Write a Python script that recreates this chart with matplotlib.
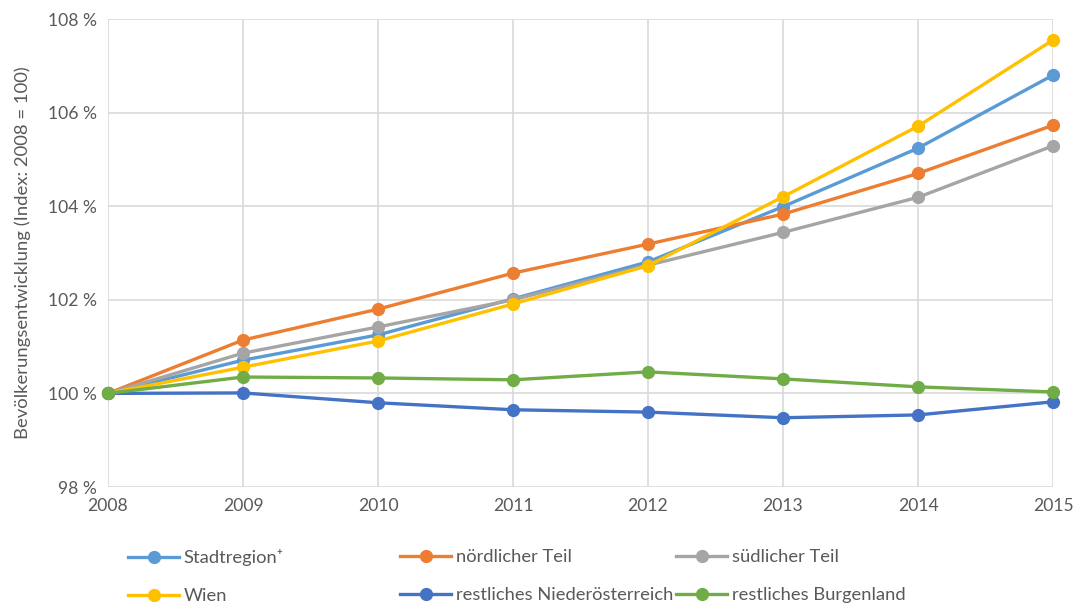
import matplotlib.pyplot as plt
from matplotlib.ticker import FuncFormatter

years = [2008, 2009, 2010, 2011, 2012, 2013, 2014, 2015]
stadtregion = [100, 100.71, 101.25, 102.02, 102.81, 103.99, 105.24, 106.80]
noerdlich = [100, 101.14, 101.80, 102.57, 103.19, 103.83, 104.70, 105.73]
suedlich = [100, 100.86, 101.42, 102.00, 102.74, 103.44, 104.19, 105.29]
wien = [100, 100.56, 101.12, 101.91, 102.73, 104.20, 105.71, 107.55]
rest_noe = [100, 100.01, 99.80, 99.65, 99.60, 99.48, 99.54, 99.82]
rest_bgld = [100, 100.35, 100.33, 100.29, 100.46, 100.31, 100.14, 100.03]

labels = ["Stadtregion\u207a", "nördlicher Teil", "südlicher Teil",
          "Wien", "restliches Niederösterreich", "restliches Burgenland"]
series = [stadtregion, noerdlich, suedlich, wien, rest_noe, rest_bgld]
colors = ["#5B9BD5", "#ED7D31", "#A5A5A5", "#FFC000", "#4472C4", "#70AD47"]

plt.rcParams['font.family'] = ['Lato', 'DejaVu Sans']
txt = "#595959"

fig = plt.figure(figsize=(10.73, 6.03), dpi=100)
ax = fig.add_axes([108 / 1073, 1 - 487 / 603, (1053 - 108) / 1073, (487 - 19) / 603])

handles = []
for vals, lab, col in zip(series, labels, colors):
    h, = ax.plot(years, vals, color=col, lw=2.4, marker='o', markersize=8.5,
                 label=lab, clip_on=False, zorder=3)
    handles.append(h)

ax.set_xlim(2008, 2015)
ax.set_ylim(98, 108)
ax.set_xticks(years)
ax.set_yticks([98, 100, 102, 104, 106, 108])
ax.yaxis.set_major_formatter(FuncFormatter(lambda v, p: f"{v:.0f} %"))
ax.grid(True, color="#D9D9D9", lw=1.2)
ax.set_axisbelow(True)
for s in ax.spines.values():
    s.set_visible(False)
ax.tick_params(length=0, labelsize=12.6, colors=txt, pad=8)
ax.set_ylabel("Bevölkerungsentwicklung (Index: 2008 = 100)", fontsize=13.3, color=txt, labelpad=12)

# legend: three columns, equally spaced like the original
col_x = [128, 400, 676]
for i, x in enumerate(col_x):
    fig.legend([handles[i], handles[i + 3]], [labels[i], labels[i + 3]],
               loc='upper left', bbox_to_anchor=(x / 1073, 1 - 549 / 603),
               frameon=False, fontsize=13.2, labelcolor=txt, handlelength=2.8,
               handletextpad=0.25, labelspacing=1.2, borderpad=0, borderaxespad=0)

fig.savefig("out.png", dpi=100)
